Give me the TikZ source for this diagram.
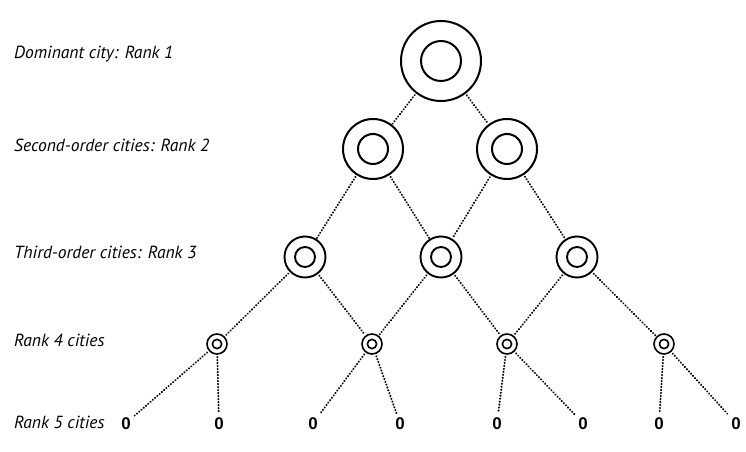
\documentclass[tikz,border=0pt]{standalone}
\usepackage{fontspec}
\setmainfont{PT Sans}
\newfontfamily\digitfont{Liberation Sans}
\begin{document}
\begin{tikzpicture}[x=1bp,y=-1bp,
  city/.style={circle, draw, line width=#1, inner sep=0pt, outer sep=0pt},
  ring/.style={line width=#1},
  link/.style={line width=2.1bp, line cap=round, dash pattern=on 0.2bp off 2.8bp,
               shorten <=3bp, shorten >=2bp},
  rank/.style={anchor=base west, inner sep=0pt,
               font=\itshape\fontsize{17.6}{20}\selectfont},
  small/.style={font=\digitfont\bfseries\fontsize{17}{19}\selectfont,
                inner sep=2bp, anchor=base}]
\fill[white] (0,0) rectangle (746,452);
\useasboundingbox (0,0) rectangle (746,452);

% row labels
\node[rank] (l1) at (14,59)  {Dominant city: Rank 1};
\node[rank] (l2) at (14,152) {Second-order cities: Rank 2};
\node[rank] (l3) at (14,259) {Third-order cities: Rank 3};
\node[rank] (l4) at (14,347) {Rank 4 cities};
\node[rank] (l5) at (14,428) {Rank 5 cities};

% rank 1
\node[city=2bp, minimum size=80bp] (a) at (441,61) {};
\draw[ring=2bp] (a.center) circle[radius=20];

% rank 2
\foreach \n/\x in {b1/373, b2/507}{
  \node[city=2bp, minimum size=60bp] (\n) at (\x,149) {};
  \draw[ring=2bp] (\n.center) circle[radius=15];
}

% rank 3
\foreach \n/\x in {c1/305, c2/441, c3/577}{
  \node[city=1.9bp, minimum size=41bp] (\n) at (\x,257) {};
  \draw[ring=1.9bp] (\n.center) circle[radius=10];
}

% rank 4
\foreach \n/\x in {d1/217, d2/372, d3/507, d4/664}{
  \node[city=1.6bp, minimum size=20bp] (\n) at (\x,344) {};
  \draw[ring=1.6bp] (\n.center) circle[radius=4.6];
}

% rank 5
\foreach \n/\x in {e1/126, e2/219, e3/313, e4/400, e5/497, e6/583, e7/659, e8/736}{
  \node[small] (\n) at (\x,429) {0};
}

% links between ranks
\draw[link] (a) -- (b1);
\draw[link] (a) -- (b2);
\draw[link] (b1) -- (c1);
\draw[link] (b1) -- (c2);
\draw[link] (b2) -- (c2);
\draw[link] (b2) -- (c3);
\draw[link] (c1) -- (d1);
\draw[link] (c1) -- (d2);
\draw[link] (c2) -- (d2);
\draw[link] (c2) -- (d3);
\draw[link] (c3) -- (d3);
\draw[link] (c3) -- (d4);
\draw[link] (d1) -- (e1);
\draw[link] (d1) -- (e2);
\draw[link] (d2) -- (e3);
\draw[link] (d2) -- (e4);
\draw[link] (d3) -- (e5);
\draw[link] (d3) -- (e6);
\draw[link] (d4) -- (e7);
\draw[link] (d4) -- (e8);
\end{tikzpicture}
\end{document}
